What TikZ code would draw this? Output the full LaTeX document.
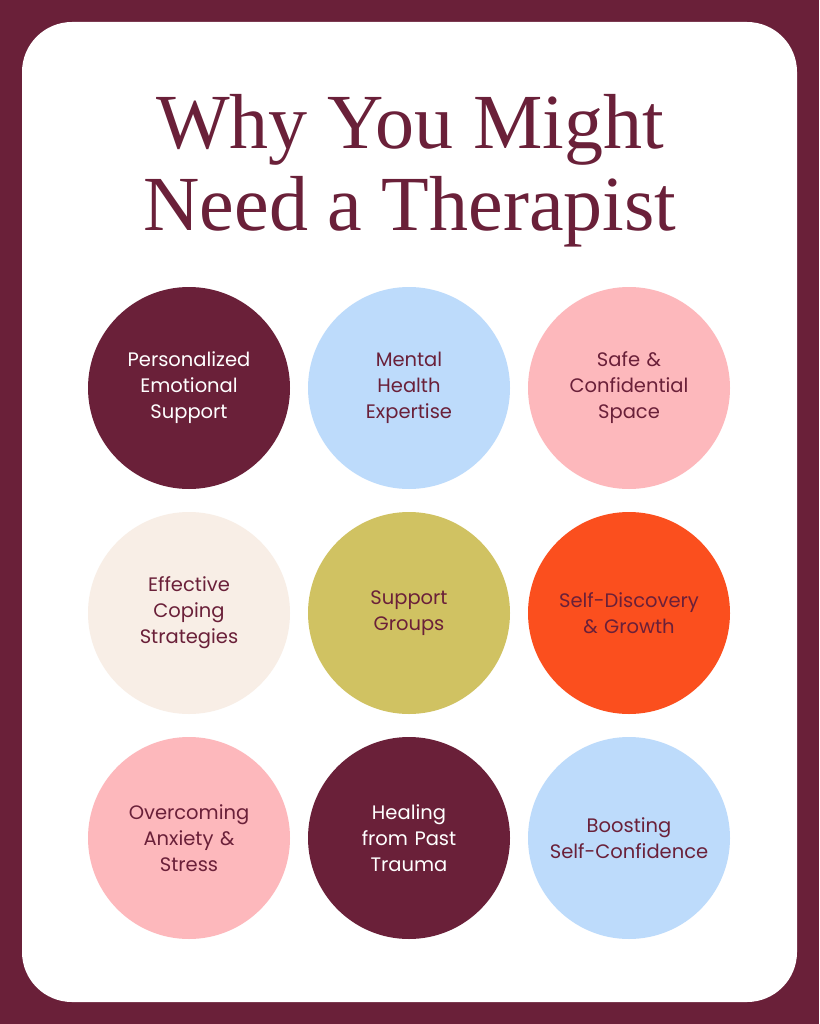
\documentclass[tikz,border=0pt]{standalone}
\usepackage{fontspec}
\setmainfont{Liberation Serif}
\newfontfamily\labelfont{Poppins}
\usetikzlibrary{positioning}
\definecolor{wine}{HTML}{6A2039}
\definecolor{sky}{HTML}{BDDBFB}
\definecolor{blush}{HTML}{FDB8BC}
\definecolor{cream}{HTML}{F8EEE6}
\definecolor{olive}{HTML}{D0C262}
\definecolor{flame}{HTML}{FB4F1E}
\tikzset{
	bubble/.style={circle, minimum size=202pt, inner sep=0pt, align=center, text width=180pt, font=\labelfont\fontsize{19.5}{26}\selectfont, text=wine},
}
\begin{document}
\begin{tikzpicture}[x=1pt, y=-1pt, node distance=18pt]
		\begin{scope}
			\fill[wine] (0,0) rectangle (819,1024);
			\fill[white, rounded corners=50pt] (22,22) rectangle (797,1002);
			\useasboundingbox (0,0) rectangle (819,1024);
		\end{scope}

		% Title
		\begin{scope}
			\node (title) at (410,171) [text=wine, align=center, font=\fontsize{78}{82}\selectfont] {Why You Might\\Need a Therapist};
		\end{scope}

		% Row one
		\begin{scope}
			\node (support) at (189,388) [bubble, fill=wine, text=white] {Personalized\\Emotional\\Support};
			\node (expertise) at (409,388) [bubble, fill=sky] {Mental\\Health\\Expertise};
			\node (safe) at (629,388) [bubble, fill=blush] {Safe \&\\Confidential\\Space};
		\end{scope}

		% Row two
		\begin{scope}
			\node (coping) at (189,613) [bubble, fill=cream] {Effective\\Coping\\Strategies};
			\node (groups) at (409,613) [bubble, fill=olive] {Support\\Groups};
			\node (growth) at (629,613) [bubble, fill=flame] {Self-Discovery\\\& Growth};
		\end{scope}

		% Row three
		\begin{scope}
			\node (anxiety) at (189,838) [bubble, fill=blush] {Overcoming\\Anxiety \&\\Stress};
			\node (trauma) at (409,838) [bubble, fill=wine, text=white] {Healing\\from Past\\Trauma};
			\node (confidence) at (629,838) [bubble, fill=sky] {Boosting\\Self-Confidence};
		\end{scope}

	\end{tikzpicture}
\end{document}
